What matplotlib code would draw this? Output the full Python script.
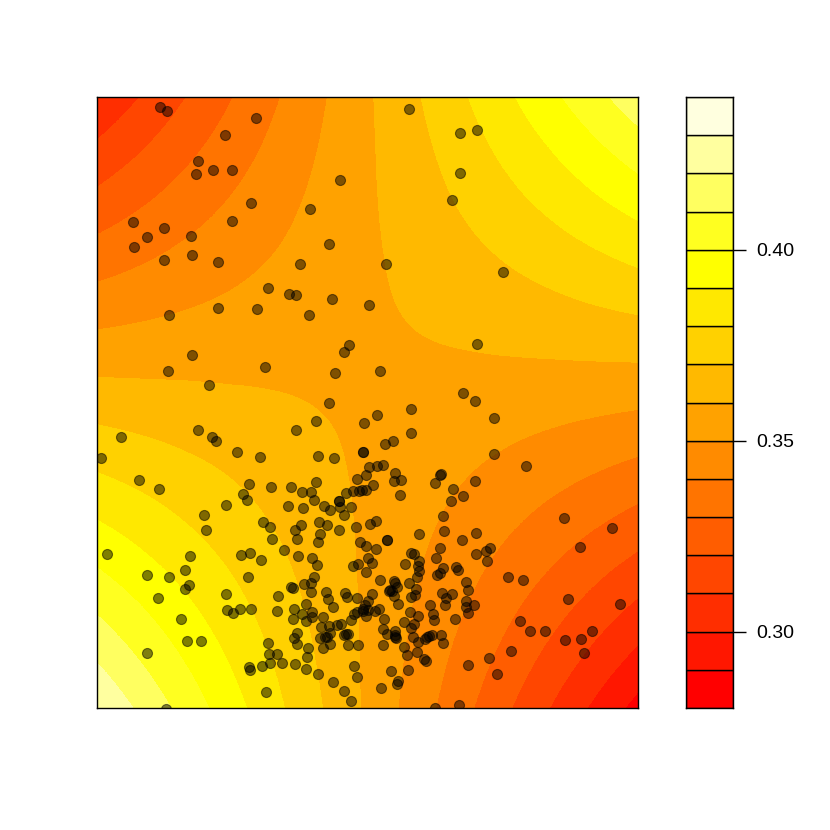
import numpy as np
import matplotlib
matplotlib.use('Agg')
import matplotlib.pyplot as plt
from matplotlib.colors import BoundaryNorm, ListedColormap

plt.rcParams['font.family'] = ['Liberation Sans', 'DejaVu Sans']

grid_x = [97, 142, 187, 232, 277, 322, 367.5, 412, 457, 502, 547, 592, 638]
grid_y = [97, 148, 199, 250, 301, 352, 402.5, 453, 504, 555, 606, 657, 708]
z_rows = [
    [.3010, .3106, .3203, .3299, .3395, .3491, .3588, .3684, .3780, .3876, .3973, .4069, .4165],
    [.3117, .3195, .3274, .3352, .3430, .3509, .3587, .3665, .3744, .3822, .3900, .3979, .4057],
    [.3225, .3285, .3346, .3406, .3466, .3527, .3587, .3647, .3708, .3768, .3828, .3889, .3949],
    [.3332, .3374, .3417, .3459, .3501, .3544, .3586, .3628, .3671, .3713, .3755, .3798, .3840],
    [.3439, .3463, .3488, .3512, .3537, .3561, .3586, .3610, .3634, .3659, .3683, .3708, .3732],
    [.3546, .3552, .3559, .3565, .3572, .3578, .3585, .3592, .3598, .3605, .3611, .3618, .3624],
    [.3654, .3642, .3631, .3619, .3608, .3596, .3585, .3573, .3562, .3550, .3539, .3527, .3516],
    [.3761, .3732, .3702, .3673, .3643, .3614, .3584, .3555, .3525, .3496, .3466, .3437, .3407],
    [.3868, .3821, .3773, .3726, .3678, .3631, .3584, .3536, .3489, .3441, .3394, .3346, .3299],
    [.3975, .3910, .3844, .3779, .3714, .3648, .3583, .3518, .3452, .3387, .3322, .3256, .3191],
    [.4083, .4000, .3916, .3833, .3749, .3666, .3583, .3499, .3416, .3332, .3249, .3165, .3082],
    [.4190, .4089, .3987, .3886, .3785, .3683, .3582, .3481, .3379, .3278, .3177, .3075, .2974],
    [.4297, .4178, .4059, .3939, .3820, .3701, .3582, .3462, .3343, .3224, .3105, .2985, .2866],
]

levels = [.28, .29, .30, .31, .32, .33, .34, .35, .36, .37, .38, .39, .40, .41, .42, .43, .44]
colors = ['#FF0000', '#FF1700', '#FF2E00', '#FF4600', '#FF5D00', '#FF7400', '#FF8B00', '#FFA200',
          '#FFB900', '#FFD100', '#FFE800', '#FFFF00', '#FFFF20', '#FFFF60', '#FFFF9F', '#FFFFDF']
cbar_ticks = [0.30, 0.35, 0.40]
cbar_labels = ['0.30', '0.35', '0.40']

# points, by region of the plot
pts_x = [160, 167, 256, 225, 198, 196, 213, 232, 340, 251, 310, 232, 133, 164, 147, 191, 134, 329, 192, 164, 218, 300,
         409, 460, 477, 460, 452, 386, 503,
         268, 289, 296, 332, 369, 218, 257, 169, 309, 349, 344, 192, 168, 265, 335, 209, 329, 364, 316, 296, 198, 121, 212, 216, 363, 363, 237, 260, 318, 334, 101, 139,
         477, 380, 463, 475, 411, 377, 494, 411, 393, 385, 494, 369, 377, 383, 526, 366, 357, 395, 401, 394, 440, 441, 435, 475, 373, 453,
         159, 249, 271, 243, 247, 226, 204, 263, 270, 206, 272, 190, 107, 241, 250, 261, 185, 147, 169, 248, 189, 185, 226, 158, 278, 227, 233, 240, 251, 277, 181, 187, 201, 268, 269, 277, 147, 270, 262, 249, 250, 266, 166, 282,
         291, 316, 302, 311, 314, 288, 303, 324, 330, 339, 339, 346, 353, 359, 340, 351, 344, 301, 295, 319, 327, 339, 356, 320, 297, 318, 360, 284, 298, 312, 317, 353, 358, 314, 311, 304, 291, 293, 326, 345, 311,
         328, 347, 357, 333, 306, 294, 312, 302, 293, 306, 312, 323, 354, 351, 321, 329, 337, 341, 297, 330, 294, 320, 325, 327, 344, 348, 346, 297, 330, 348, 358, 308, 323, 307, 295, 306, 318, 354, 357, 333, 344, 351,
         362, 366, 400, 463, 451, 443, 376, 370, 444, 476, 419, 387, 387, 462, 366, 376, 440, 411, 414, 476, 368, 436, 419, 372, 405, 418, 443, 456, 458, 419, 440, 437, 366, 417, 380, 394, 395, 409, 466, 397, 390, 416, 468, 372, 442, 452,
         389, 392, 394, 411, 415, 446, 466, 398, 430, 445, 474, 466, 468, 368, 365, 379, 375, 368, 363, 363, 357, 366, 410, 418, 433, 434, 455, 384, 404, 414, 411, 383, 387, 395, 395, 395, 396, 413, 432, 429, 427, 441, 425, 418, 443, 383, 404, 417, 407, 424, 426, 468, 391, 408, 398, 397, 381, 435, 459,
         564, 612, 580, 490, 486, 487, 508, 523, 568, 620, 520, 530, 545, 565, 581, 592, 584, 511, 489, 497]
pts_y = [107, 111, 118, 135, 161, 174, 170, 170, 180, 203, 209, 221, 222, 228, 237, 236, 247, 244, 255, 260, 262, 264,
         109, 133, 130, 173, 200, 264, 272,
         288, 294, 295, 299, 305, 308, 309, 315, 315, 345, 352, 355, 371, 367, 373, 385, 403, 423, 421, 430, 430, 437, 437, 441, 452, 452, 452, 457, 456, 458, 458, 480,
         344, 371, 393, 401, 409, 415, 418, 433, 441, 444, 454, 467, 466, 465, 466, 475, 479, 473, 480, 481, 475, 474, 483, 481, 485, 489,
         489, 484, 487, 494, 500, 505, 515, 522, 527, 530, 539, 556, 554, 555, 553, 560, 570, 575, 577, 577, 585, 589, 594, 598, 596, 610, 613, 609, 609, 611, 619, 641, 641, 643, 654, 654, 653, 663, 666, 667, 670, 692, 709, 663,
         487, 482, 492, 492, 500, 506, 508, 506, 510, 501, 501, 493, 491, 491, 507, 507, 515, 525, 530, 522, 525, 530, 527, 534, 539, 542, 542, 550, 556, 558, 565, 566, 564, 577, 583, 584, 587, 588, 592, 593, 592,
         599, 597, 598, 607, 604, 609, 612, 614, 619, 621, 617, 617, 614, 620, 627, 626, 625, 624, 633, 633, 638, 638, 637, 637, 635, 634, 634, 644, 644, 645, 645, 648, 648, 657, 664, 669, 674, 666, 677, 682, 691, 701,
         490, 490, 495, 496, 501, 516, 521, 524, 531, 533, 534, 540, 540, 540, 546, 549, 548, 553, 554, 554, 558, 558, 561, 563, 564, 566, 568, 567, 570, 571, 573, 575, 572, 577, 580, 581, 583, 583, 582, 587, 590, 589, 590, 594, 593, 594,
         591, 591, 596, 597, 595, 598, 601, 604, 605, 605, 605, 607, 613, 601, 605, 609, 611, 610, 609, 611, 612, 616, 612, 616, 614, 620, 619, 619, 622, 624, 628, 629, 634, 631, 635, 637, 638, 637, 635, 636, 637, 635, 639, 642, 643, 645, 647, 652, 655, 659, 661, 665, 671, 670, 681, 684, 688, 708, 705,
         518, 528, 547, 548, 551, 561, 577, 580, 599, 604, 621, 631, 631, 640, 639, 631, 653, 651, 658, 674]

fig = plt.figure(figsize=(8.3, 8.3), dpi=100)

ax = fig.add_axes([97 / 830, 122 / 830, 541 / 830, 611 / 830])
# imshow resamples the table itself, so the bands come out smooth
half_x = (grid_x[-1] - grid_x[0]) / 24
half_y = (grid_y[-1] - grid_y[0]) / 24
ax.imshow(np.array(z_rows), cmap=ListedColormap(colors), norm=BoundaryNorm(levels, len(colors)),
          interpolation='bilinear', interpolation_stage='data', aspect='auto', origin='upper',
          extent=(grid_x[0] - half_x, grid_x[-1] + half_x, grid_y[-1] + half_y, grid_y[0] - half_y))
ax.scatter(pts_x, pts_y, s=52, facecolor=(0, 0, 0, 0.5), edgecolor=(0, 0, 0, 0.5), linewidth=0.8, zorder=3)
ax.set_xlim(97, 638)
ax.set_ylim(708, 97)
ax.set_xticks([])
ax.set_yticks([])
for s in ax.spines.values():
    s.set_linewidth(1.0)
    s.set_zorder(5)

# colour key
cax = fig.add_axes([686 / 830, 122 / 830, 47 / 830, 611 / 830])
cax.bar(0, np.diff(levels), bottom=levels[:-1], width=1, color=colors, edgecolor='black', linewidth=1.0)
cax.set_xlim(-0.5, 0.5)
cax.set_ylim(levels[0], levels[-1])
cax.set_xticks([])
cax.yaxis.tick_right()
cax.set_yticks(cbar_ticks)
cax.set_yticklabels(cbar_labels)
cax.tick_params(axis='y', length=9.5, width=1.0, labelsize=14, pad=7.5)
for s in cax.spines.values():
    s.set_linewidth(1.0)

fig.savefig('out.png', dpi=100)
